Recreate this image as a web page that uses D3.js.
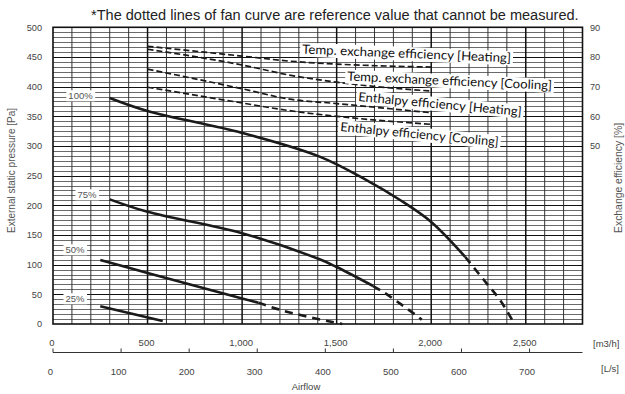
<!DOCTYPE html>
<html><head><meta charset="utf-8">
<script src="https://cdn.jsdelivr.net/npm/d3@7"></script>
<style>body{margin:0;background:#fff}svg{display:block}</style>
</head><body><svg id="c" width="625" height="394"></svg>
<script>
// ---------- data ----------
const yTicksPa = [0,50,100,150,200,250,300,350,400,450,500];
const yTicksEff = [50,60,70,80,90];
const xTicksM3h = [0,500,1000,1500,2000,2500];
const xTicksLs = [0,100,200,300,400,500,600,700];
const fanNames = ["100%","75%","50%","25%"];
const fan100Solid = [[300,381],[500,359],[1000,322],[1410,282],[1660,242],[1835,209],[2000,172],[2180,113]];
const fan100Dashed = [[2180,113],[2294,68],[2365,40],[2440,0]];
const fan75Solid = [[300,210],[500,189],[1000,153],[1410,109],[1500,96],[1693,64]];
const fan75Dashed = [[1693,64],[1751,53],[1841,33],[1923,14],[1950,7]];
const fan50Solid = [[250,108],[500,86],[1000,43],[1086,36]];
const fan50Dashed = [[1086,36],[1200,24],[1350,12],[1530,0]];
const fan25Solid = [[250,30],[580,5]];
const effNames = ["Temp. exchange efficiency [Heating]","Temp. exchange efficiency [Cooling]","Enthalpy efficiency [Heating]","Enthalpy efficiency [Cooling]"];
const effTempHeat = [[500,83.6],[1000,80.3],[1250,78.6],[1500,77.6],[2000,76.6]];
const effTempCool = [[500,82.6],[1000,77.3],[1250,73.9],[1500,71.5],[2000,68.5]];
const effEnthHeat = [[500,75.9],[1000,69.3],[1250,65.8],[1500,64.3],[2000,61.2]];
const effEnthCool = [[500,69.8],[1000,64.5],[1250,61.9],[1500,60.0],[2000,57.3]];
const noteText = "*The dotted lines of fan curve are reference value that cannot be measured.";

// ---------- layout ----------
const svg = d3.select("#c");
const L = 53, R = 582.5, T = 27.3, B = 324;
const x = d3.scaleLinear().domain([0,2800]).range([L,R]);
const xLs = d3.scaleLinear().domain([0,2800/3.6]).range([L,R]);
const y = d3.scaleLinear().domain([0,500]).range([B,T]);
const yE = d3.scaleLinear().domain([-10,90]).range([B,T]);
const font = "'Liberation Sans', Arial, sans-serif";
const lblFont = "Lato, 'Open Sans', sans-serif";

function fit(sel, w){ const n=sel.node(); const cur=n.getComputedTextLength(); const fs=parseFloat(sel.attr("font-size")); sel.attr("font-size", fs*w/cur); }

// grid
const g = svg.append("g");
const hLines = d3.range(1,60).map(i=>i*50/6);
g.selectAll(".hm").data(hLines).join("line")
  .attr("x1",L).attr("x2",R).attr("y1",d=>Math.round(y(d))+0.5).attr("y2",d=>Math.round(y(d))+0.5)
  .attr("stroke", (d,i)=> (i+1)%6===0 ? "#111":"#444").attr("stroke-width", (d,i)=>(i+1)%6===0?1.2:0.8);
g.selectAll(".vm").data(d3.range(100,2800,100)).join("line")
  .attr("y1",T).attr("y2",B).attr("x1",d=>x(d)).attr("x2",d=>x(d))
  .attr("stroke", d=> d%500===0 ? "#111":"#333").attr("stroke-width", d=>d%500===0?1.5:1);
g.append("rect").attr("x",L).attr("y",T).attr("width",R-L).attr("height",B-T)
  .attr("fill","none").attr("stroke","#111").attr("stroke-width",1.6);

// left ticks
svg.append("g").selectAll("text").data(yTicksPa).join("text")
  .attr("x",42).attr("y",d=>y(d)+3.3).attr("text-anchor","end")
  .attr("font-family",font).attr("font-size",9.2).attr("fill","#444").text(d=>d);
// right ticks
svg.append("g").selectAll("text").data(yTicksEff).join("text")
  .attr("x",590).attr("y",d=>yE(d)+3.3).attr("text-anchor","start")
  .attr("font-family",font).attr("font-size",9.2).attr("fill","#444").text(d=>d);

// axis titles
svg.append("text").attr("transform",`translate(15,233) rotate(-90)`).attr("text-anchor","start")
  .attr("font-family",font).attr("font-size",10).attr("fill","#555").text("External static pressure [Pa]");
svg.append("text").attr("transform",`translate(621.5,233) rotate(-90)`).attr("text-anchor","start")
  .attr("font-family",font).attr("font-size",10.4).attr("fill","#555").text("Exchange efficiency [%]");

// bottom axis
const ay = 352.5;
svg.append("line").attr("x1",L).attr("x2",R).attr("y1",ay).attr("y2",ay).attr("stroke","#333").attr("stroke-width",1);
svg.append("g").selectAll("line").data(xTicksLs).join("line")
  .attr("x1",d=>xLs(d)).attr("x2",d=>xLs(d)).attr("y1",ay).attr("y2",ay-4).attr("stroke","#333");
svg.append("g").selectAll("text").data(xTicksM3h).join("text")
  .attr("x",d=>x(d)-1).attr("y",346).attr("text-anchor","middle")
  .attr("font-family",font).attr("font-size",9.5).attr("fill","#444").text(d=>d3.format(",")(d));
svg.append("g").selectAll("text").data(xTicksLs).join("text")
  .attr("x",d=>xLs(d)-2.5).attr("y",375).attr("text-anchor","middle")
  .attr("font-family",font).attr("font-size",9.5).attr("fill","#444").text(d=>d);
svg.append("text").attr("x",593).attr("y",347).attr("font-family",font).attr("font-size",9.5).attr("fill","#444").text("[m3/h]");
svg.append("text").attr("x",601).attr("y",372).attr("font-family",font).attr("font-size",9.5).attr("fill","#444").text("[L/s]");
svg.append("text").attr("x",306).attr("y",390).attr("text-anchor","middle").attr("font-family",font).attr("font-size",9.5).attr("fill","#444").text("Airflow");

// note
const note = svg.append("text").attr("x",91).attr("y",19.5).attr("font-family",font).attr("font-size",12).attr("fill","#222").text(noteText);
fit(note, 488);

// efficiency lines
const effLine = d3.line().x(d=>x(d[0])).y(d=>yE(d[1])).curve(d3.curveMonotoneX);
const effs = [effTempHeat, effTempCool, effEnthHeat, effEnthCool];
svg.append("g").selectAll("path").data(effs).join("path").attr("d",effLine)
  .attr("fill","none").attr("stroke","#1a1a1a").attr("stroke-width",1.7).attr("stroke-dasharray","6,3");

// fan lines
const fanLine = d3.line().x(d=>x(d[0])).y(d=>y(d[1])).curve(d3.curveCatmullRom.alpha(0.5));
const solids = [fan100Solid, fan75Solid, fan50Solid, fan25Solid];
const dashes = [fan100Dashed, fan75Dashed, fan50Dashed];
svg.append("g").selectAll("path").data(solids).join("path").attr("d",fanLine)
  .attr("fill","none").attr("stroke","#1a1a1a").attr("stroke-width",2.6).attr("stroke-linecap","butt");
svg.append("g").selectAll("path").data(dashes).join("path").attr("d",fanLine)
  .attr("fill","none").attr("stroke","#1a1a1a").attr("stroke-width",2.6).attr("stroke-dasharray","8,6");

// fan labels
const fanLblPos = [[80.5,96],[87,195],[75,250],[75,299]];
fanNames.forEach((t,i)=>{
  const gg = svg.append("g");
  const tx = gg.append("text").attr("x",fanLblPos[i][0]).attr("y",fanLblPos[i][1]+3.3).attr("text-anchor","middle")
    .attr("font-family",font).attr("font-size",9.5).attr("fill","#555").text(t);
  const bb = tx.node().getBBox();
  gg.insert("rect","text").attr("x",bb.x-2).attr("y",bb.y).attr("width",bb.width+4).attr("height",bb.height).attr("fill","#fff");
});

// efficiency labels
const effLblPos = [[302,53.5,2.4],[347,80.5,2.6],[358,101,5.2],[340,131,5.5]];
const effLblW = [209,205,164,159];
effNames.forEach((t,i)=>{
  const [lx,ly,ang] = effLblPos[i];
  const gg = svg.append("g").attr("transform",`translate(${lx},${ly}) rotate(${ang})`);
  const tx = gg.append("text").attr("x",0).attr("y",0).attr("font-family",lblFont).attr("font-size",12.6).attr("fill","#111")
    .attr("textLength",effLblW[i]).attr("lengthAdjust","spacingAndGlyphs").text(t);
  const bb = tx.node().getBBox();
  gg.insert("rect","text").attr("x",-2).attr("y",bb.y+1).attr("width",effLblW[i]+4).attr("height",bb.height-1).attr("fill","#fff");
});
</script></body></html>
